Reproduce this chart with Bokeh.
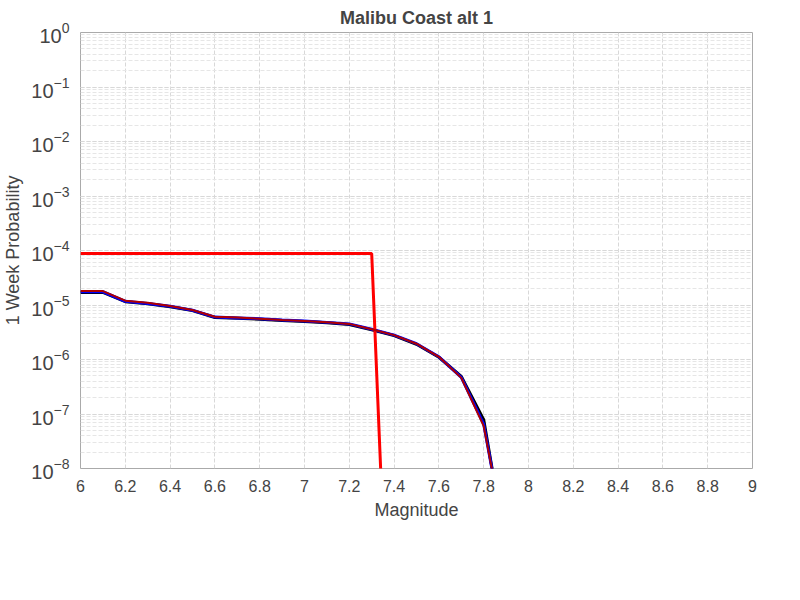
from bokeh.plotting import figure
from bokeh.embed import file_html
from bokeh.resources import INLINE
from bokeh.models import Legend, LegendItem

mags = [6.0, 6.1, 6.2, 6.3, 6.4, 6.5, 6.6, 6.7, 6.8, 6.9, 7.0, 7.1, 7.2, 7.3, 7.4, 7.5, 7.6, 7.7, 7.8, 7.85]
ti = [1.7e-5, 1.7e-5, 1.15e-5, 1.05e-5, 9.3e-6, 7.9e-6, 5.9e-6, 5.7e-6, 5.5e-6, 5.2e-6, 5.0e-6, 4.7e-6, 4.4e-6, 3.5e-6, 2.75e-6, 1.9e-6, 1.1e-6, 4.9e-7, 7.9e-8, 5e-9]
td = [1.75e-5, 1.75e-5, 1.17e-5, 1.07e-5, 9.5e-6, 8.0e-6, 6.0e-6, 5.8e-6, 5.6e-6, 5.3e-6, 5.1e-6, 4.8e-6, 4.5e-6, 3.6e-6, 2.8e-6, 1.95e-6, 1.12e-6, 4.7e-7, 6.5e-8, 5e-9]
etas_mags = [6.0, 7.3, 7.35]
etas = [8.8e-5, 8.8e-5, 1e-9]
trig_td = [1.8e-5, 1.8e-5, 1.2e-5, 1.1e-5, 9.6e-6, 8.1e-6, 6.1e-6, 5.9e-6, 5.6e-6, 5.3e-6, 5.1e-6, 4.8e-6, 4.5e-6, 3.6e-6, 2.8e-6, 1.95e-6, 1.12e-6, 4.6e-7, 6e-8, 5e-9]

p = figure(frame_width=672, frame_height=436, x_range=(6, 9), y_range=(1e-8, 1), y_axis_type="log",
           title="Malibu Coast alt 1", output_backend="svg", toolbar_location=None,
           x_axis_label="Magnitude", y_axis_label="1 Week Probability",
           min_border_left=4, min_border_right=18, min_border_top=4, min_border_bottom=0)
p.title.align = "center"
p.title.text_font = "Liberation Sans"
p.title.text_font_size = "18px"
p.outline_line_color = "#aaaaaa"
p.background_fill_color = "white"

for ax in (p.xaxis, p.yaxis):
    ax.axis_label_text_font = "Liberation Sans"
    ax.axis_label_text_font_size = "18px"
    ax.axis_label_text_font_style = "normal"
    ax.major_label_text_font = "Liberation Sans"
    ax.axis_line_color = None
    ax.major_tick_line_color = None
    ax.minor_tick_line_color = None
p.xaxis.major_label_text_font_size = "16px"
p.yaxis.major_label_text_font_size = "20px"
p.xaxis.ticker.desired_num_ticks = 15
p.yaxis.ticker.desired_num_ticks = 9

p.grid.grid_line_color = "#d8d8d8"
p.grid.grid_line_dash = "4 2"
p.ygrid.minor_grid_line_color = "#e6e6e6"
p.ygrid.minor_grid_line_dash = "4 2"

r_ti = p.line(mags, ti, line_color="black", line_width=3)
r_td = p.line(mags, td, line_color="blue", line_width=3)
r_etas = p.line(etas_mags, etas, line_color="red", line_width=3)
r_trig = p.line(mags, trig_td, line_color="#b00000", line_width=2)
r_only = p.line([], [], line_color="#ff8080", line_width=2)

style = dict(orientation="horizontal", label_text_font="Liberation Sans",
             label_text_font_size="17px", border_line_color=None, glyph_width=16,
             spacing=8, padding=0, margin=2, label_standoff=2, location="left")
legend1 = Legend(items=[
    LegendItem(label="UCERF3-TI", renderers=[r_ti]),
    LegendItem(label="UCERF3-TD", renderers=[r_td]),
    LegendItem(label="UCERF3-ETAS", renderers=[r_etas]),
    LegendItem(label="ETAS Triggered+TD", renderers=[r_trig]),
], **style)
legend2 = Legend(items=[
    LegendItem(label="ETAS Triggered Only", renderers=[r_only]),
], **style)
p.add_layout(legend1, "below")
p.add_layout(legend2, "below")

open("out.html", "w").write(file_html(p, INLINE))
